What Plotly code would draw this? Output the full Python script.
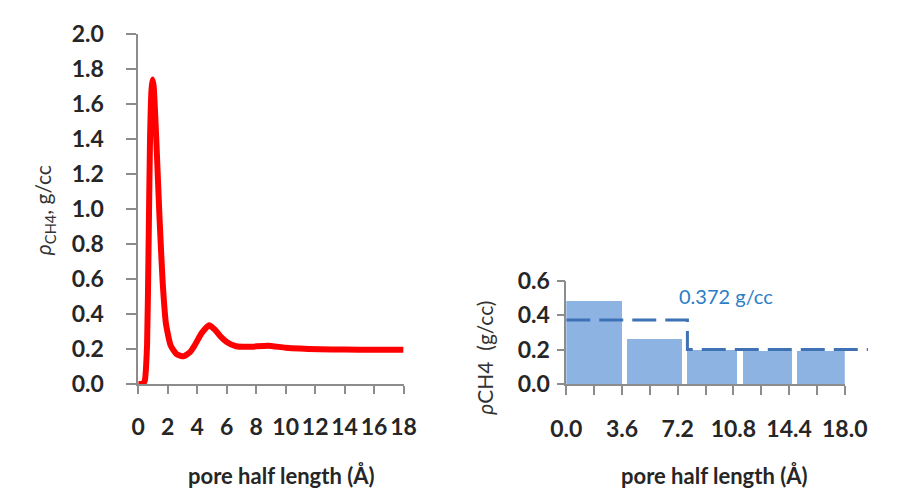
import plotly.graph_objects as go

# ---- data: density profile (left panel) ----
pore_x = [0.0, 0.3, 0.45, 0.6, 0.7, 0.8, 0.9, 0.97, 1.05, 1.23, 1.45, 1.66, 1.88, 2.2, 2.6,
          3.07, 3.5, 3.83, 4.3, 4.8, 5.2, 5.56, 6.0, 6.64, 7.5, 8.8, 10.0, 12.3, 14.0, 16.0, 18.0]
rho_ch4 = [0.0, 0.0, 0.02, 0.22, 0.76, 1.39, 1.68, 1.74, 1.70, 1.39, 0.94, 0.58, 0.345, 0.22, 0.17,
           0.158, 0.18, 0.22, 0.29, 0.335, 0.31, 0.273, 0.24, 0.215, 0.212, 0.218, 0.207, 0.198,
           0.196, 0.195, 0.195]

# ---- data: binned density (right panel) ----
bin_centers = [1.82, 5.72, 9.45, 13.0, 16.6]
bin_rho = [0.484, 0.261, 0.197, 0.191, 0.191]
bin_widths = [3.65, 3.6, 3.25, 3.15, 3.4]

avg_x = [0.0, 7.83, 7.83, 19.5]
avg_rho = [0.372, 0.372, 0.2, 0.2]
avg_label = "0.372 g/cc"

left_xticks = [0, 2, 4, 6, 8, 10, 12, 14, 16, 18]
left_yticks = [0.0, 0.2, 0.4, 0.6, 0.8, 1.0, 1.2, 1.4, 1.6, 1.8, 2.0]
right_xticks = [0.0, 3.6, 7.2, 10.8, 14.4, 18.0]
right_xminor = [0.0, 1.8, 3.6, 5.4, 7.2, 9.0, 10.8, 12.6, 14.4, 16.2, 18.0]
right_yticks = [0.0, 0.2, 0.4, 0.6]

W, H = 907, 502
def px(x):
    return x / W
def py(y):
    return (H - y) / H

tickfont = dict(family="Lato", size=23, color="#262626", weight="bold")
axis_gray = "#8c8c8c"

fig = go.Figure()
fig.add_trace(go.Scatter(x=pore_x, y=rho_ch4, mode="lines", line=dict(color="#ff0000", width=6, shape="spline", smoothing=0.5),
                         xaxis="x", yaxis="y", showlegend=False, hoverinfo="skip"))
fig.add_trace(go.Bar(x=bin_centers, y=bin_rho, width=bin_widths, marker=dict(color="#8db3e2", line=dict(width=0)),
                     xaxis="x2", yaxis="y2", showlegend=False))
fig.add_trace(go.Scatter(x=avg_x, y=avg_rho, mode="lines", line=dict(color="#3f72b5", width=3, dash="24px,9px"),
                         xaxis="x3", yaxis="y3", showlegend=False))

common = dict(showgrid=False, zeroline=False, showline=True, linecolor=axis_gray, linewidth=1.5,
              ticks="outside", tickcolor=axis_gray, tickwidth=1.5, tickfont=tickfont)

x2_px = (575, 866)
x3_right = 900
x3_max = 18 * (x3_right - x2_px[0]) / (x2_px[1] - x2_px[0])

fig.update_layout(
    width=W, height=H, margin=dict(l=0, r=0, t=0, b=0),
    paper_bgcolor="white", plot_bgcolor="rgba(0,0,0,0)",
    bargap=0,
    xaxis=dict(domain=[px(127.7), px(405)], range=[0, 18], tickvals=left_xticks, ticklen=8,
               ticklabelstandoff=14, anchor="y", **common),
    yaxis=dict(domain=[py(390.7), py(20)], range=[0, 2], tickvals=left_yticks, tickformat=".1f", ticklen=10,
               ticklabelstandoff=18, anchor="x", **common),
    xaxis2=dict(domain=[px(x2_px[0]), px(x2_px[1])], range=[0, 18], tickvals=right_xticks, tickformat=".1f",
                ticklen=9, ticklabelstandoff=15, anchor="y2",
                minor=dict(tickvals=right_xminor, ticks="outside", ticklen=9, tickcolor=axis_gray, tickwidth=1.5),
                **common),
    yaxis2=dict(domain=[py(390.7), py(281.7)], range=[0, 0.6], tickvals=right_yticks, tickformat=".1f", ticklen=8,
                ticklabelstandoff=2, anchor="x2", **common),
    xaxis3=dict(domain=[px(x2_px[0]), px(x3_right)], range=[0, x3_max], visible=False, anchor="y3"),
    yaxis3=dict(domain=[py(390.7), py(281.7)], range=[0, 0.6], visible=False, anchor="x3"),
)

title_font = dict(family="Lato", size=22, color="#262626", weight="bold")
ytitle_font = dict(family="Lato", size=21, color="#333333")
fig.add_annotation(x=px(277), y=py(488), xref="paper", yref="paper", text="pore half length (Å)",
                   showarrow=False, font=title_font, xanchor="center", yanchor="middle")
fig.add_annotation(x=px(730), y=py(488), xref="paper", yref="paper", text="pore half length (Å)",
                   showarrow=False, font=title_font, xanchor="center", yanchor="middle")
fig.add_annotation(x=px(30), y=py(207), xref="paper", yref="paper", text="<i>ρ</i><sub>CH4</sub>, g/cc",
                   showarrow=False, font=ytitle_font, textangle=-90, xanchor="center", yanchor="middle")
fig.add_annotation(x=px(490), y=py(363), xref="paper", yref="paper", text="<i>ρ</i>CH4  (g/cc)",
                   showarrow=False, font=ytitle_font, textangle=-90, xanchor="center", yanchor="middle")
fig.add_annotation(x=px(742), y=py(298), xref="paper", yref="paper", text=avg_label,
                   showarrow=False, font=dict(family="Lato", size=20, color="#2a7dc8"),
                   xanchor="center", yanchor="middle")

fig.write_html("out.html", post_script="document.body.style.margin='0';document.body.style.overflow='hidden';",
               config={"displayModeBar": False})
